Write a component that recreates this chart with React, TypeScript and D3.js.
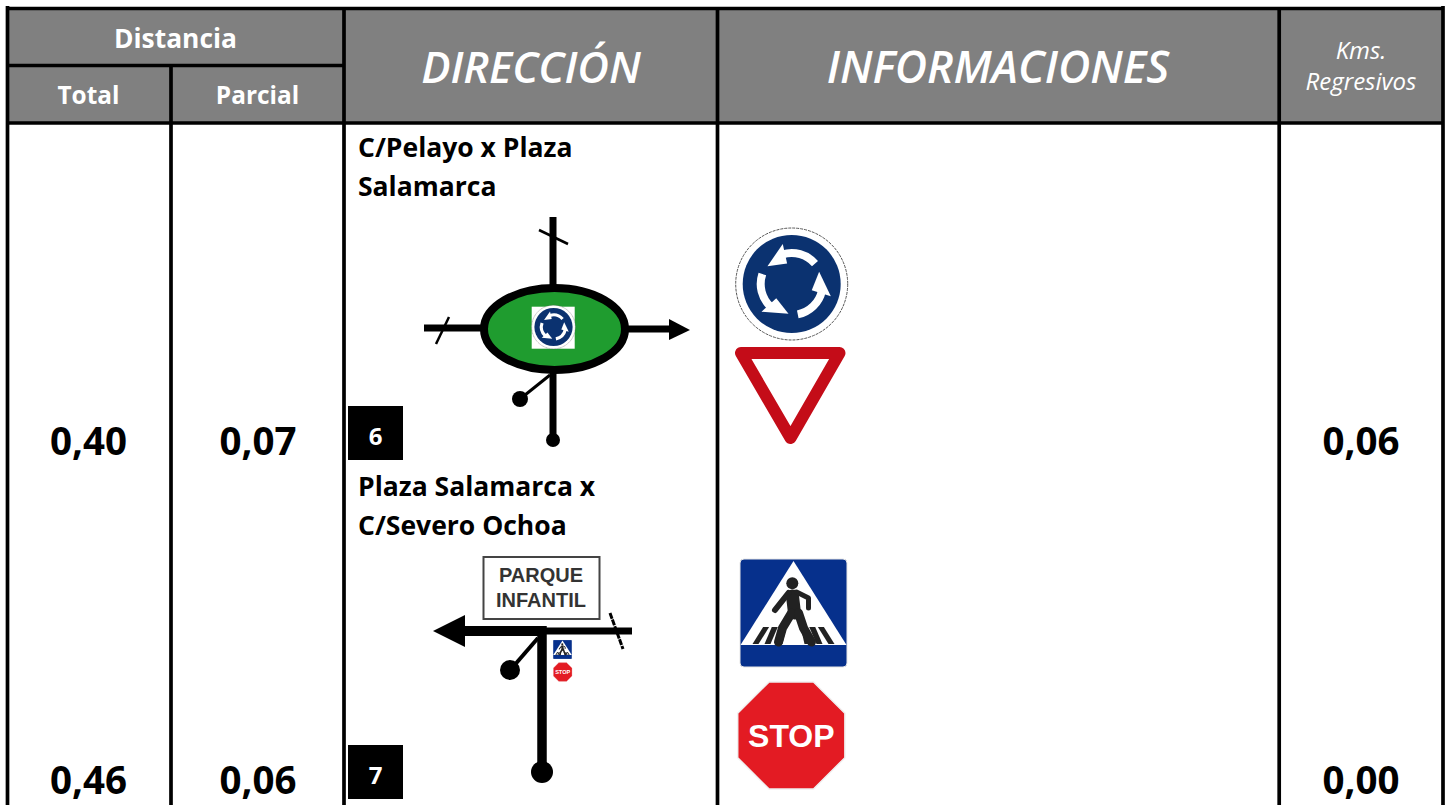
import React from 'react';
import * as d3 from 'd3';

// table contents
const distTotal = ['0,40', '0,46'];
const distParcial = ['0,07', '0,06'];
const kmsRegresivos = ['0,06', '0,00'];
const stepNumbers = ['6', '7'];
const directions = [
  ['C/Pelayo x Plaza', 'Salamarca'],
  ['Plaza Salamarca x', 'C/Severo Ochoa'],
];
const parkSign = ['PARQUE', 'INFANTIL'];
const crossingStripes = [-38, -26, -14, 14, 26, 38];

// table layout
const colEdges = [7.5, 171, 344, 717.5, 1279.2, 1443];
const rowEdges = [8.5, 65.5, 123];
const rowBaseline = d3.scaleLinear().domain([0, 1]).range([455, 794]);
const rowTop = d3.scaleLinear().domain([0, 1]).range([124, 463]);
const H = 805;
const font = '"Open Sans", sans-serif';
const signFont = '"Liberation Sans", Arial, sans-serif';

const line = d3.line();

const Arrows = () => {
  const arc = d3.arc();
  const head = (a: number) => {
    const r = 31;
    const p = (ang: number, rr: number) => [Math.sin(ang) * rr, -Math.cos(ang) * rr] as [number, number];
    return line([p(a, r - 10), p(a, r + 10), p(a - 0.72, r - 1)]) + 'Z';
  };
  return (
    <g fill="#fff">
      {[0, 120, 240].map(rot => (
        <g key={rot} transform={`rotate(${rot})`}>
          <path d={arc({ innerRadius: 27, outerRadius: 35, startAngle: -0.3, endAngle: 0.85 } as any) as string} />
          <path d={head(-0.22)} />
        </g>
      ))}
    </g>
  );
};

const RoundaboutSign = ({ x, y, k }: { x: number; y: number; k: number }) => (
  <g transform={`translate(${x},${y}) scale(${k})`}>
    <circle r={56} fill="#fff" stroke="#555" strokeWidth={1} strokeDasharray="3 1" />
    <circle r={49} fill="#0b3270" />
    <Arrows />
  </g>
);

const CrossingSign = ({ x, y, k }: { x: number; y: number; k: number }) => (
  <g transform={`translate(${x},${y}) scale(${k})`}>
    <rect x={-53.5} y={-54} width={107} height={108} rx={4} fill="#06308c" stroke="#e6e6e6" strokeWidth={1} />
    <path d={line([[0, -52], [53, 32], [-53, 32]]) + 'Z'} fill="#fff" />
    {crossingStripes.map(b => (
      <path
        key={b}
        d={line([[b - 3, 31], [b + 3, 31], [b * 0.72 + 3, 14], [b * 0.72 - 3, 14]]) + 'Z'}
        fill="#222"
      />
    ))}
    <g fill="none" stroke="#222" strokeLinejoin="round" strokeLinecap="round">
      <path d={line([[-1, -17], [1, 0]]) as string} strokeWidth={13} />
      <path d={line([[-5, -20], [-18.5, -3]]) as string} strokeWidth={6} />
      <path d={line([[3, -21], [15, -15], [15, -5]]) as string} strokeWidth={5} />
      <path d={line([[-2, 0], [-11, 15], [-15, 29]]) as string} strokeWidth={9} />
      <path d={line([[5, 0], [10, 15], [18, 29]]) as string} strokeWidth={9} />
    </g>
    <circle cx={-1.2} cy={-29.7} r={6} fill="#222" />
  </g>
);

const octagon = d3.range(8).map(i => {
  const a = Math.PI / 8 + (i * Math.PI) / 4;
  return [Math.cos(a) * 58, Math.sin(a) * 58] as [number, number];
});

const StopSign = ({ x, y, k }: { x: number; y: number; k: number }) => (
  <g transform={`translate(${x},${y}) scale(${k})`}>
    <path d={line(octagon) + 'Z'} fill="#e31b23" stroke="#f0f0f0" strokeWidth={1.5} />
    <text x={0} y={11} textAnchor="middle" fill="#fff" fontFamily={signFont} fontWeight="700" fontSize={32}>
      STOP
    </text>
  </g>
);

const Seg = ({ pts, w, cap = 'butt' }: { pts: [number, number][]; w: number; cap?: any }) => (
  <path d={line(pts) as string} fill="none" stroke="#000" strokeWidth={w} strokeLinecap={cap} />
);

const RoundaboutDiagram = () => (
  <g>
    <Seg pts={[[553, 217], [553, 440]]} w={7} />
    <Seg pts={[[539, 230], [568, 244]]} w={2.5} />
    <Seg pts={[[424, 328], [482, 328]]} w={7} />
    <Seg pts={[[449, 317], [436, 344]]} w={2.5} />
    <Seg pts={[[625, 329], [670, 329]]} w={7} />
    <path d={line([[669, 319], [690, 330], [669, 340]]) + 'Z'} fill="#000" />
    <Seg pts={[[550, 375], [520, 399]]} w={3} />
    <circle cx={520} cy={399} r={8} fill="#000" />
    <circle cx={553} cy={440} r={7} fill="#000" />
    <ellipse cx={554.5} cy={329} rx={70.5} ry={41} fill="#1f9c2f" stroke="#000" strokeWidth={8} />
    <rect x={531.7} y={306.7} width={43} height={42} fill="#fff" />
    <RoundaboutSign x={553.5} y={327} k={0.39} />
  </g>
);

const ParkDiagram = () => (
  <g>
    <rect x={483.5} y={557} width={116} height={62} fill="#fff" stroke="#444" strokeWidth={2} />
    {parkSign.map((t, i) => (
      <text key={t} x={541} y={581.5 + i * 25.5} textAnchor="middle" fill="#333" fontFamily={signFont} fontWeight="700" fontSize={20}>
        {t}
      </text>
    ))}
    <Seg pts={[[465, 631], [545, 631]]} w={10} />
    <Seg pts={[[545, 631], [632, 631]]} w={7} />
    <path d={line([[433, 631], [465, 615], [465, 647]]) + 'Z'} fill="#000" />
    <Seg pts={[[542, 626], [542, 772]]} w={9.5} />
    <circle cx={542} cy={772} r={11} fill="#000" />
    <path d={line([[610, 613], [623, 649]]) as string} fill="none" stroke="#000" strokeWidth={3} strokeDasharray="6 1" />
    <Seg pts={[[538, 638], [512, 668]]} w={4} />
    <circle cx={510} cy={670} r={10} fill="#000" />
    <CrossingSign x={562.5} y={649.5} k={0.175} />
    <StopSign x={562.7} y={672} k={0.175} />
  </g>
);

const GRID = 3.7;

export default function App() {
  return (
    <svg width={1451} height={H} style={{ position: 'fixed', left: 0, top: 0, background: '#fff' }}>
      {/* header band */}
      <rect x={colEdges[0]} y={rowEdges[0]} width={colEdges[5] - colEdges[0]} height={rowEdges[2] - rowEdges[0]} fill="#808080" />

      {/* grid */}
      {colEdges.map((x, i) => (
        <line
          key={i}
          x1={x}
          x2={x}
          y1={i === 0 || i === 5 ? 6 : rowEdges[i === 1 ? 1 : 0]}
          y2={H}
          stroke="#000"
          strokeWidth={GRID}
        />
      ))}
      <line x1={colEdges[0]} x2={colEdges[5]} y1={rowEdges[0]} y2={rowEdges[0]} stroke="#000" strokeWidth={GRID} />
      <line x1={colEdges[0]} x2={colEdges[2]} y1={rowEdges[1]} y2={rowEdges[1]} stroke="#000" strokeWidth={GRID} />
      <line x1={colEdges[0]} x2={colEdges[5]} y1={rowEdges[2]} y2={rowEdges[2]} stroke="#000" strokeWidth={GRID} />

      {/* header text */}
      <g fill="#fff" fontFamily={font} textAnchor="middle">
        <text x={175.5} y={47.5} fontSize={26.4} fontWeight="700">Distancia</text>
        <text x={88.5} y={104} fontSize={24.4} fontWeight="700">Total</text>
        <text x={257.5} y={104} fontSize={24.4} fontWeight="700">Parcial</text>
        <text x={531} y={83} fontSize={43.6} fontStyle="italic" fontWeight="600">DIRECCIÓN</text>
        <text x={998} y={83} fontSize={44.5} fontStyle="italic" fontWeight="600">INFORMACIONES</text>
        <text x={1361} y={59} fontSize={24} fontStyle="italic">Kms.</text>
        <text x={1361} y={90} fontSize={24} fontStyle="italic">Regresivos</text>
      </g>

      {/* rows */}
      {distTotal.map((d, i) => (
        <g key={i}>
          <g fontFamily={font} fontWeight="700" fontSize={38.5} textAnchor="middle" fill="#000">
            <text x={88.5} y={rowBaseline(i)}>{d}</text>
            <text x={258} y={rowBaseline(i)}>{distParcial[i]}</text>
            <text x={1361} y={rowBaseline(i)}>{kmsRegresivos[i]}</text>
          </g>
          <g fontFamily={font} fontWeight="700" fontSize={26.5} fill="#000">
            {directions[i].map((t, j) => (
              <text key={t} x={358} y={rowTop(i) + 33 + j * 39}>{t}</text>
            ))}
          </g>
          <rect x={348} y={rowTop(i) + 282} width={55} height={54} fill="#000" />
          <text x={375.5} y={rowTop(i) + 321} textAnchor="middle" fontFamily={font} fontWeight="700" fontSize={24} fill="#fff">
            {stepNumbers[i]}
          </text>
        </g>
      ))}

      <RoundaboutDiagram />
      <ParkDiagram />

      {/* right hand signs */}
      <RoundaboutSign x={791.7} y={284} k={1} />
      <path d={line([[741, 353], [839.5, 353], [790.5, 438]]) + 'Z'} fill="none" stroke="#c40c18" strokeWidth={12} strokeLinejoin="round" />
      <CrossingSign x={793.5} y={613} k={1} />
      <StopSign x={791.3} y={735.5} k={1} />
    </svg>
  );
}
